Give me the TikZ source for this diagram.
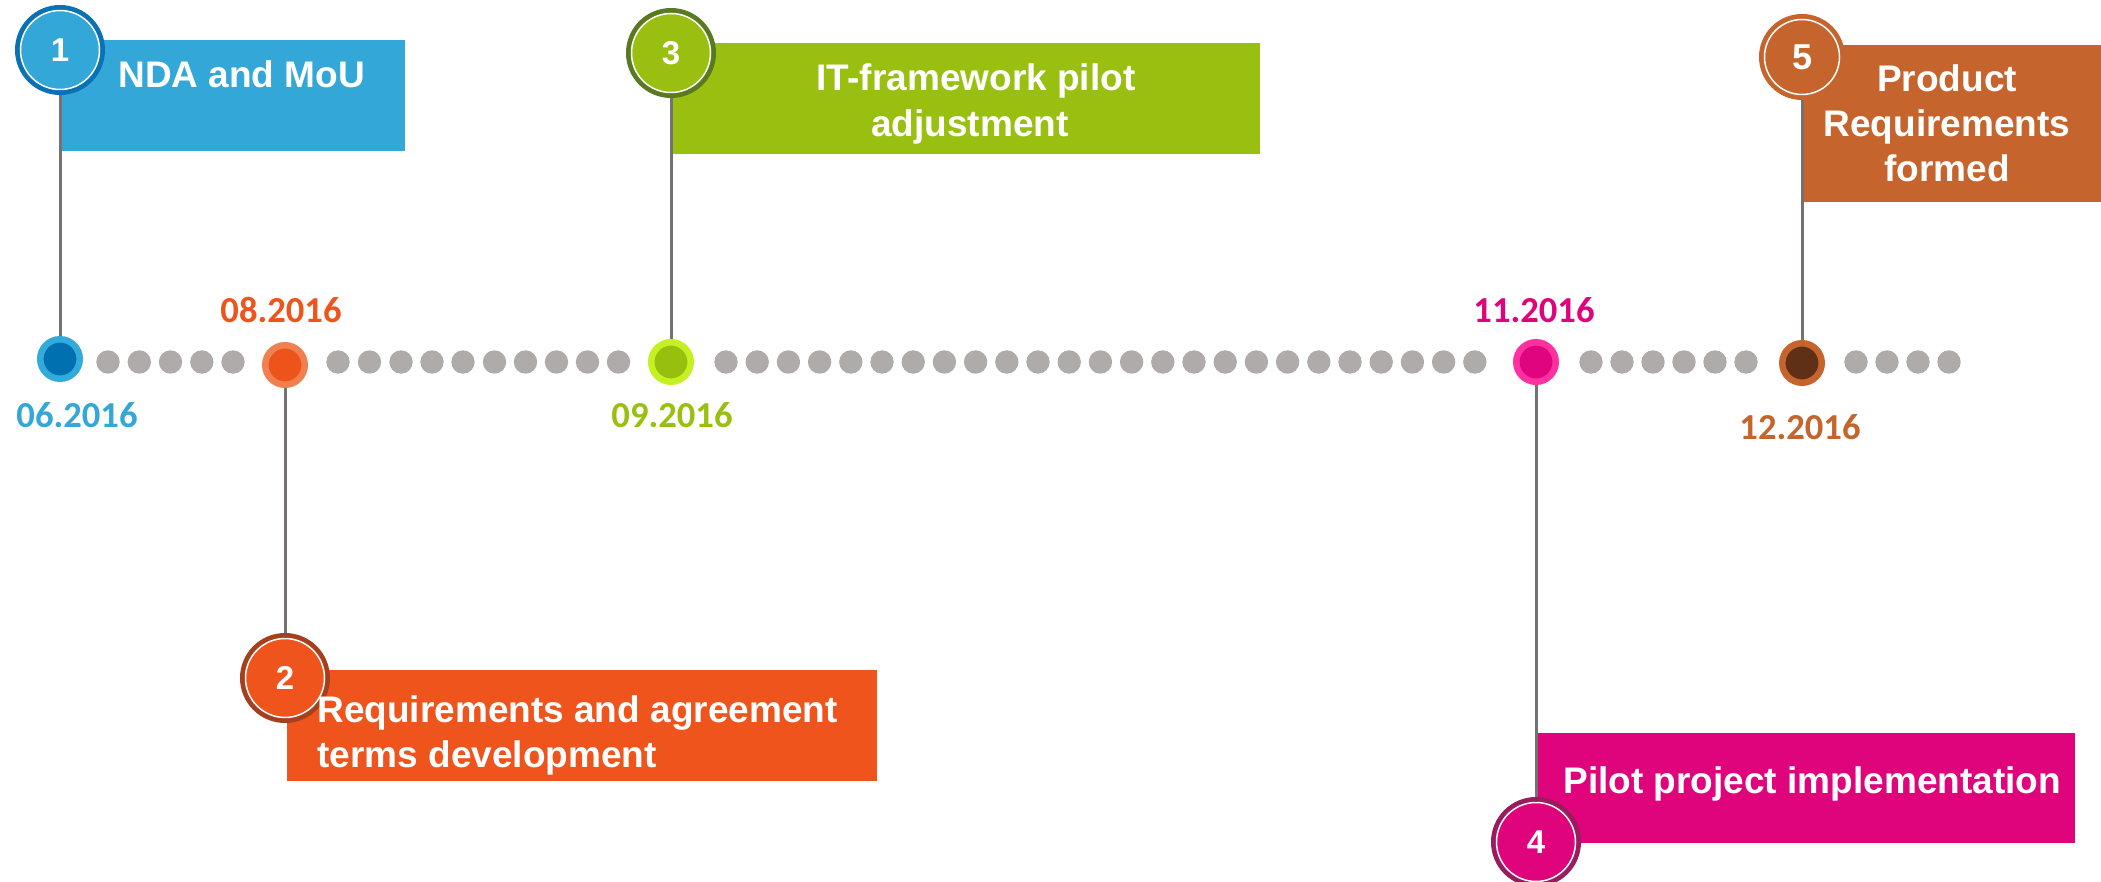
\documentclass[tikz,border=0pt]{standalone}
\usepackage{fontspec}
\setmainfont{Liberation Sans}
\newfontfamily\datefont{Carlito}
\definecolor{boxA}{HTML}{33A8D8}
\definecolor{boxB}{HTML}{EF541C}
\definecolor{boxC}{HTML}{99C010}
\definecolor{boxD}{HTML}{E0047C}
\definecolor{boxE}{HTML}{C5652D}
\definecolor{ringA}{HTML}{0A72B4}
\definecolor{ringB}{HTML}{A5401E}
\definecolor{ringC}{HTML}{5A7A22}
\definecolor{ringD}{HTML}{9B1B5F}
\definecolor{ringE}{HTML}{C5652D}
\definecolor{dotAin}{HTML}{0070B0}
\definecolor{dotAout}{HTML}{33AADC}
\definecolor{dotBin}{HTML}{EE5319}
\definecolor{dotBout}{HTML}{F08050}
\definecolor{dotCin}{HTML}{97C00E}
\definecolor{dotCout}{HTML}{C5F022}
\definecolor{dotDin}{HTML}{E0047E}
\definecolor{dotDout}{HTML}{FF30A0}
\definecolor{dotEin}{HTML}{603016}
\definecolor{dotEout}{HTML}{C5652D}
\definecolor{dotgray}{HTML}{AFABAA}
\definecolor{conngray}{HTML}{767171}
\begin{document}
\begin{tikzpicture}[x=0.5pt,y=-0.5pt,
  dotst/.style={circle, inner sep=0pt, minimum size=19.75pt, line width=3.25pt},
  numst/.style={circle, inner sep=0pt, minimum size=42.5pt, line width=2.5pt, text=white,
    font=\fontsize{16.5pt}{16.5pt}\selectfont\bfseries},
  boxtext/.style={inner sep=0pt, text=white, font=\fontsize{18.5pt}{22pt}\selectfont\bfseries},
  datest/.style={inner sep=0pt, anchor=base, font=\datefont\fontsize{18.3pt}{18.3pt}\selectfont\bfseries},
  conn/.style={draw=conngray, line width=1.5pt},
  whitering/.style={draw=white, line width=0.75pt}]
\useasboundingbox[fill=white] (0,0) rectangle (2101,882);

% boxes
\fill[boxA] (61,40) rectangle (405,151);
\fill[boxB] (287,670) rectangle (877,781);
\fill[boxC] (672,43) rectangle (1260,154);
\fill[boxD] (1538,733) rectangle (2075,843);
\fill[boxE] (1804,45) rectangle (2101,202);

% grey dots
\foreach \x in {108,139.3,170.5,201.8,233,
                338,369.5,401,432,463,494.5,525.5,556.5,587.5,618.5,
                1591,1622,1653,1684,1715,1746,
                1856,1887,1918,1949}
  \fill[dotgray] (\x,362) circle (11.7);
\foreach \k in {0,...,24}
  \fill[dotgray] ({726+31.2*\k},362) circle (11.7);

% timeline dots
\node[dotst, fill=dotAin, draw=dotAout] (d1) at (60,359) {};
\node[dotst, fill=dotBin, draw=dotBout] (d2) at (285,365) {};
\node[dotst, fill=dotCin, draw=dotCout] (d3) at (671,362) {};
\node[dotst, fill=dotDin, draw=dotDout] (d4) at (1536,362) {};
\node[dotst, fill=dotEin, draw=dotEout] (d5) at (1802,363) {};

% numbered circles
\node[numst, fill=boxA, draw=ringA] (c1) at (60,50) {1};
\node[numst, fill=boxB, draw=ringB] (c2) at (285,678) {2};
\node[numst, fill=boxC, draw=ringC] (c3) at (671,53) {3};
\node[numst, fill=boxD, draw=ringD] (c4) at (1536,842) {4};
\node[numst, fill=boxE, draw=ringE, minimum size=40.5pt,
      font=\fontsize{18pt}{18pt}\selectfont\bfseries] (c5) at (1802,57) {5};
\draw[whitering] (c1.center) circle (39.5);
\draw[whitering] (c2.center) circle (39.5);
\draw[whitering] (c3.center) circle (39.5);
\draw[whitering] (c4.center) circle (39.5);
\draw[whitering] (c5.center) circle (37.5);

% connectors
\draw[conn] (c1) -- (d1);
\draw[conn] (d2) -- (c2);
\draw[conn] (c3) -- (d3);
\draw[conn] (d4) -- (c4);
\draw[conn] (c5) -- (d5);

% box texts
\node[boxtext, anchor=base west] (t1) at (118,88) {NDA and MoU};
\node[boxtext, anchor=base west] (t2a) at (317,722) {Requirements and agreement};
\node[boxtext, anchor=base west] (t2b) at (317,767) {terms development};
\node[boxtext, anchor=base] (t3a) at (976,91) {IT-framework pilot};
\node[boxtext, anchor=base] (t3b) at (970,137) {adjustment};
\node[boxtext, anchor=base west] (t4) at (1563,793) {Pilot project implementation};
\node[boxtext, anchor=base] (t5a) at (1947,92) {Product};
\node[boxtext, anchor=base] (t5b) at (1947,137) {Requirements};
\node[boxtext, anchor=base] (t5c) at (1947,182) {formed};

% dates
\node[datest, text=boxA] (m1) at (77,428) {06.2016};
\node[datest, text=boxB] (m2) at (281,323) {08.2016};
\node[datest, text=boxC] (m3) at (672,428) {09.2016};
\node[datest, text=boxD] (m4) at (1534,323) {11.2016};
\node[datest, text=boxE] (m5) at (1800,439) {12.2016};
\end{tikzpicture}
\end{document}
